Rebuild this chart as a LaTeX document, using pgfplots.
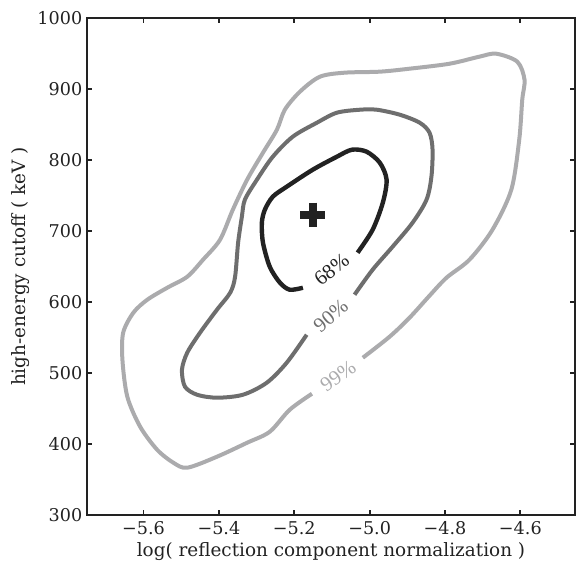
\documentclass[border=0pt]{standalone}
\usepackage{fontspec}
\setmainfont{DejaVu Serif}
\newfontfamily\pctfont{Liberation Serif}
\usepackage{pgfplots}
\pgfplotsset{compat=1.18}

\definecolor{c68}{HTML}{222222}
\definecolor{c90}{HTML}{6E6E6E}
\definecolor{c99}{HTML}{ABABAD}

\begin{document}
\begin{tikzpicture}
\begin{axis}[
    width=366pt,
    height=372.75pt,
    scale only axis,
    xmin=-5.75, xmax=-4.455,
    ymin=300, ymax=1000,
    xtick={-5.6,-5.4,-5.2,-5.0,-4.8,-4.6},
    xticklabels={−5.6,−5.4,−5.2,−5.0,−4.8,−4.6},
    ytick={300,400,500,600,700,800,900,1000},
    yticklabels={300,400,500,600,700,800,900,1000},
    tick align=inside,
    major tick length=3.5pt,
    tick style={line width=1.4pt, color=c68},
    axis line style={line width=2.2pt, color=c68},
    tick label style={font=\fontsize{13.2}{15}\selectfont, color=c68},
    label style={font=\fontsize{13.8}{15}\selectfont, color=c68},
    xlabel={log( reflection component normalization )},
    ylabel={high-energy cutoff ( keV )},
    xticklabel style={yshift=-1pt},
    xlabel style={yshift=1pt},
    ylabel style={yshift=-1pt},
]

% 99% contour
\addplot[c99, line width=3pt, smooth, tension=0.5] coordinates {
(-5.018,521.5) (-4.947,551.1) (-4.894,577.9) (-4.841,608.9) (-4.796,634.2)
(-4.735,659.6) (-4.674,701.8) (-4.624,758.2) (-4.603,828.6) (-4.595,884.9)
(-4.589,913.1) (-4.608,938.4) (-4.664,949.7) (-4.709,945.5) (-4.788,935.6)
(-4.894,928.6) (-4.973,924.4) (-5.066,923.0) (-5.132,917.3) (-5.185,896.2)
(-5.225,870.8) (-5.246,842.7) (-5.283,810.3) (-5.325,772.3) (-5.363,730.0)
(-5.397,687.7) (-5.442,659.6) (-5.484,635.6) (-5.537,620.1) (-5.590,603.2)
(-5.627,584.9) (-5.654,556.8) (-5.656,518.7) (-5.643,466.6) (-5.609,424.4)
(-5.564,392.0) (-5.521,373.7) (-5.484,366.6) (-5.405,382.1) (-5.325,401.8)
(-5.265,417.3) (-5.212,448.3) (-5.153,470.8)
};

% 90% contour
\addplot[c90, line width=3pt, smooth, tension=0.5] coordinates {
(-5.040,610.3) (-4.992,645.5) (-4.939,677.9) (-4.886,711.7) (-4.849,744.1)
(-4.836,776.5) (-4.833,814.5) (-4.841,838.4) (-4.867,852.5) (-4.920,863.8)
(-4.981,870.8) (-5.026,870.8) (-5.087,866.6) (-5.140,852.5) (-5.204,832.8)
(-5.257,804.6) (-5.299,772.3) (-5.331,744.1) (-5.339,720.1) (-5.349,683.5)
(-5.357,635.6) (-5.370,613.1) (-5.405,589.2) (-5.450,556.8) (-5.484,528.6)
(-5.498,504.6) (-5.490,480.7) (-5.458,469.4) (-5.405,465.2) (-5.336,469.4)
(-5.273,486.3) (-5.220,514.5) (-5.167,553.9)
};

% 68% contour
\addplot[c68, line width=3.3pt, smooth, tension=0.5] coordinates {
(-5.032,669.4) (-4.992,701.8) (-4.965,739.9) (-4.955,772.3) (-4.973,796.2)
(-5.008,811.7) (-5.047,814.5) (-5.087,804.6) (-5.151,786.3) (-5.220,762.4)
(-5.257,748.3) (-5.278,730.0) (-5.286,711.7) (-5.283,683.5) (-5.265,649.7)
(-5.238,627.2) (-5.212,617.3) (-5.177,620.1)
};

% best fit
\addplot[only marks, mark=+, mark size=9.3pt, line width=6.2pt, c68,
    mark options={line cap=butt}] coordinates {(-5.151,722.5)};

\node[rotate=38, text=c68, font=\pctfont\fontsize{15.5}{17}\selectfont]
    at (axis cs:-5.101,645.5) {68\%};
\node[rotate=40, text=c90, font=\pctfont\fontsize{15.5}{17}\selectfont]
    at (axis cs:-5.103,580.7) {90\%};
\node[rotate=35, text=c99, font=\pctfont\fontsize{15.5}{17}\selectfont]
    at (axis cs:-5.084,496.2) {99\%};
\end{axis}
\pgfresetboundingbox
\path ([shift={(-65.25pt,-37.5pt)}]current axis.south west)
    rectangle ([shift={(1.5pt,13.5pt)}]current axis.north east);
\end{tikzpicture}
\end{document}
